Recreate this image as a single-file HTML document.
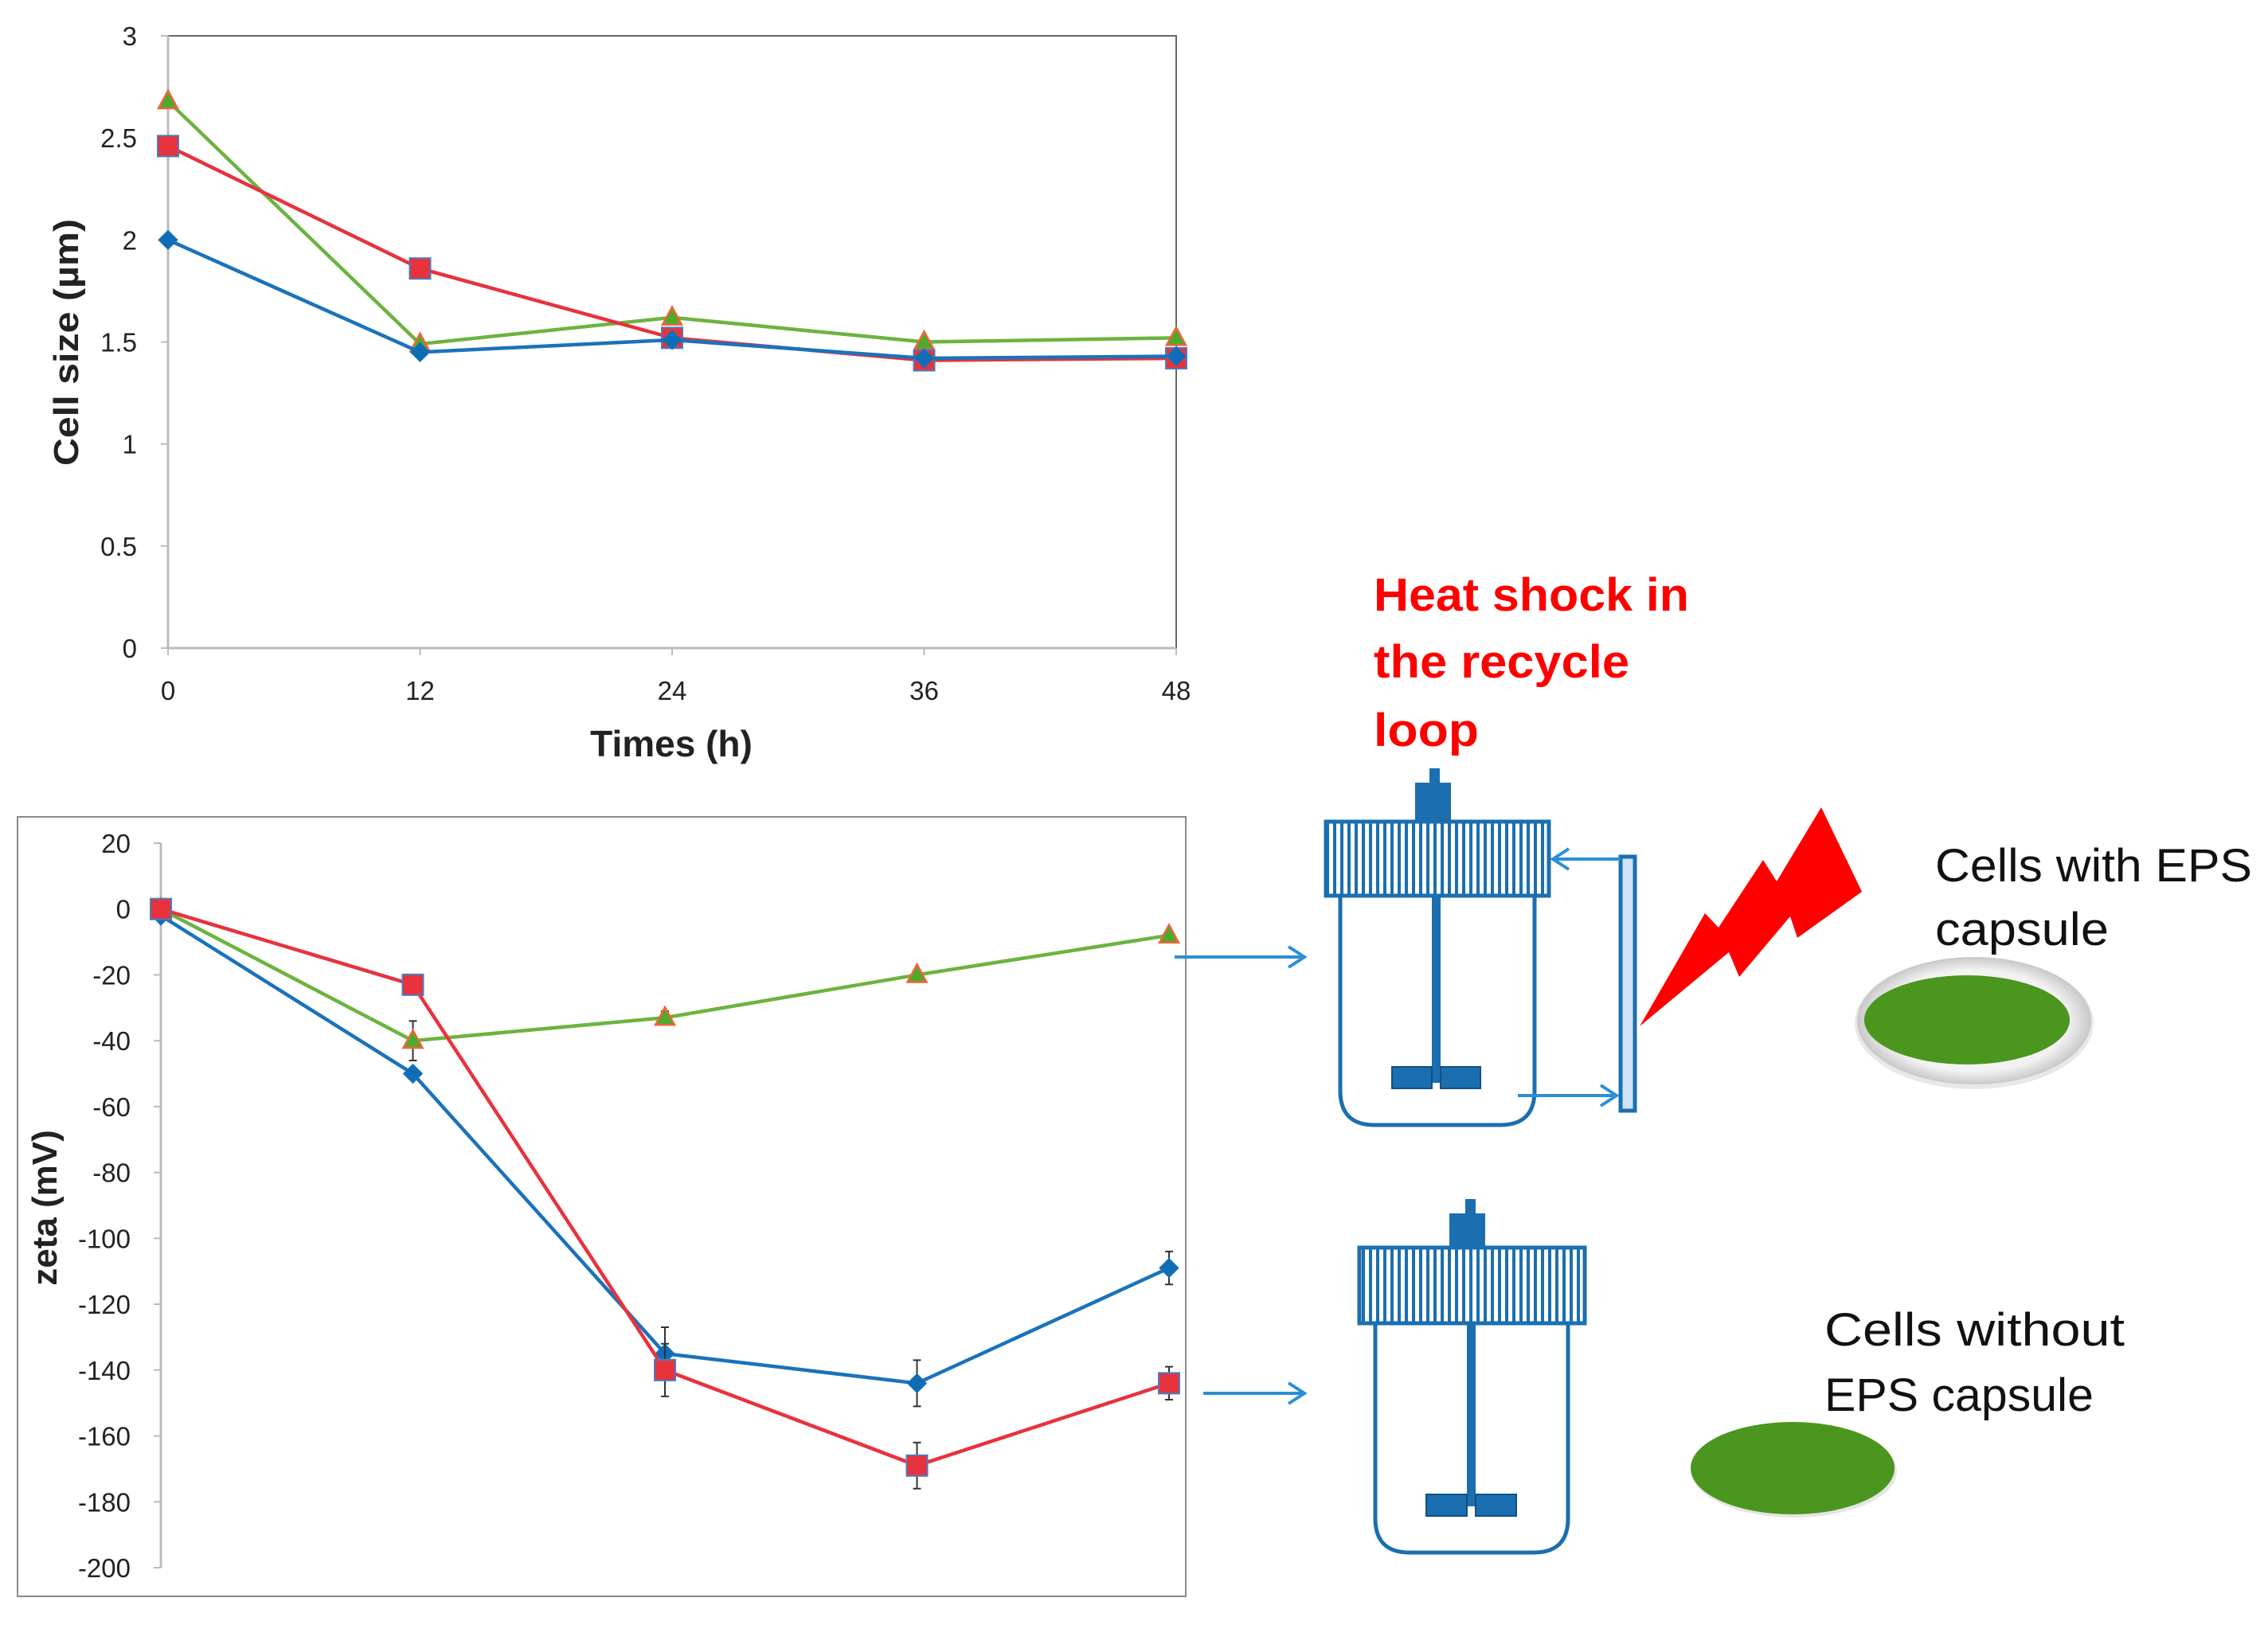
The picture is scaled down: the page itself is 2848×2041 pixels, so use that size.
<!DOCTYPE html>
<html><head><meta charset="utf-8">
<style>
html,body{margin:0;padding:0;background:#fff;}
svg{display:block;}
text{font-family:"Liberation Sans",sans-serif;}
</style></head>
<body>
<svg id="fig" width="2848" height="2041" viewBox="0 0 2848 2041" xmlns="http://www.w3.org/2000/svg">
<defs>
<pattern id="hatch" width="9" height="10" patternUnits="userSpaceOnUse">
<rect width="9" height="10" fill="#ffffff"/>
<rect x="0" width="4" height="10" fill="#1b6fb0"/>
</pattern>
<radialGradient id="capsuleGrad" cx="50%" cy="50%" r="50%">
<stop offset="80%" stop-color="#f2f2f2"/>
<stop offset="100%" stop-color="#c8c8c8"/>
</radialGradient>
</defs>
<g id="top-chart"></g>
<g id="bot-chart"></g>

<g fill="#ff0000" font-weight="bold" font-size="58">
<text x="1725" y="767" textLength="396" lengthAdjust="spacingAndGlyphs">Heat shock in</text>
<text x="1725" y="851" textLength="321" lengthAdjust="spacingAndGlyphs">the recycle</text>
<text x="1725" y="937" textLength="132" lengthAdjust="spacingAndGlyphs">loop</text>
</g>

<g stroke="#1b6fb0" fill="none">
<rect x="1795" y="965" width="13" height="20" fill="#1b6fb0" stroke="none"/>
<rect x="1777" y="983" width="45" height="49" fill="#1b6fb0" stroke="none"/>
<rect x="1665" y="1032" width="280" height="93" fill="url(#hatch)" stroke-width="5"/>
<path d="M1683 1125 V1370 Q1683 1413 1726 1413 H1884 Q1927 1413 1927 1370 V1125" stroke-width="5"/>
<rect x="1798" y="1125" width="11" height="235" fill="#1b6fb0" stroke="none"/>
<rect x="1748" y="1340" width="50" height="27" fill="#1b6fb0" stroke="#0f4f85" stroke-width="2"/>
<rect x="1809" y="1340" width="50" height="27" fill="#1b6fb0" stroke="#0f4f85" stroke-width="2"/>
<rect x="2035" y="1076" width="18" height="319" fill="#cfe3f4" stroke-width="5"/>
</g>
<g stroke="#2a8fd6" stroke-width="4" fill="none">
<path d="M2035 1079 H1950 M1970 1066 L1950 1079 L1970 1092"/>
<path d="M1906 1376 H2030 M2010 1363 L2030 1376 L2010 1389"/>
</g>
<polygon fill="#ff0000" points="2059,1289 2141,1147 2158,1165 2214,1080 2231,1107 2287,1014 2338,1120 2257,1178 2248,1151 2184,1227 2171,1196"/>

<g stroke="#2a8fd6" stroke-width="4" fill="none">
<path d="M1475 1202 H1638 M1618 1189 L1638 1202 L1618 1215"/>
</g>
<g stroke="#2a8fd6" stroke-width="4" fill="none">
<path d="M1511 1750 H1638 M1618 1737 L1638 1750 L1618 1763"/>
</g>

<g stroke="#1b6fb0" fill="none">
<rect x="1840" y="1506" width="13" height="20" fill="#1b6fb0" stroke="none"/>
<rect x="1820" y="1524" width="45" height="43" fill="#1b6fb0" stroke="none"/>
<rect x="1707" y="1567" width="283" height="95" fill="url(#hatch)" stroke-width="5"/>
<path d="M1727 1662 V1907 Q1727 1950 1770 1950 H1926 Q1969 1950 1969 1907 V1662" stroke-width="5"/>
<rect x="1842" y="1662" width="11" height="230" fill="#1b6fb0" stroke="none"/>
<rect x="1791" y="1877" width="51" height="27" fill="#1b6fb0" stroke="#0f4f85" stroke-width="2"/>
<rect x="1853" y="1877" width="51" height="27" fill="#1b6fb0" stroke="#0f4f85" stroke-width="2"/>
</g>

<g>
<ellipse cx="2479" cy="1285" rx="150" ry="83" fill="#d8d8d8" opacity="0.6"/>
<ellipse cx="2479" cy="1282" rx="147" ry="80" fill="url(#capsuleGrad)"/>
<ellipse cx="2470" cy="1281" rx="129" ry="56" fill="#4a961e"/>
</g>
<g font-size="58" fill="#111">
<text x="2430" y="1107" textLength="398" lengthAdjust="spacingAndGlyphs">Cells with EPS</text>
<text x="2430" y="1187" textLength="218" lengthAdjust="spacingAndGlyphs">capsule</text>
</g>
<g>
<ellipse cx="2253" cy="1848" rx="129" ry="58" fill="#cccccc" opacity="0.5"/>
<ellipse cx="2251" cy="1844" rx="128" ry="58" fill="#4a961e"/>
</g>
<g font-size="58" fill="#111">
<text x="2291" y="1690" textLength="377" lengthAdjust="spacingAndGlyphs">Cells without</text>
<text x="2291" y="1772" textLength="338" lengthAdjust="spacingAndGlyphs">EPS capsule</text>
</g>
</svg>
<script>
const times = [0, 12, 24, 36, 48];
const sizeBlue = [2.0, 1.45, 1.51, 1.42, 1.43];
const sizeRed = [2.46, 1.86, 1.52, 1.41, 1.42];
const sizeGreen = [2.68, 1.49, 1.62, 1.50, 1.52];
const sizeTicks = [0, 0.5, 1, 1.5, 2, 2.5, 3];
const zetaBlue = [-2, -50, -135, -144, -109];
const zetaRed = [0, -23, -140, -169, -144];
const zetaGreen = [0, -40, -33, -20, -8];
const zetaBlueErr = [0, 0, 8, 7, 5];
const zetaRedErr = [0, 0, 8, 7, 5];
const zetaGreenErr = [0, 6, 2, 0, 0];
const zetaTicks = [20, 0, -20, -40, -60, -80, -100, -120, -140, -160, -180, -200];

const NS = 'http://www.w3.org/2000/svg';
function mk(parent, tag, attrs) {
  const e = document.createElementNS(NS, tag);
  for (const k in attrs) e.setAttribute(k, attrs[k]);
  parent.appendChild(e);
  return e;
}
const C = {blue: '#1a72bb', red: '#e8323c', green: '#6cb33f'};

function marker(g, kind, x, y, s) {
  let m;
  if (kind === 'blue') {
    m = mk(g, 'polygon', {points: `${x},${y-s} ${x+s},${y} ${x},${y+s} ${x-s},${y}`, fill: '#0f6db5', stroke: '#1a72bb', 'stroke-width': 1});
  } else if (kind === 'red') {
    m = mk(g, 'rect', {x: x - s, y: y - s, width: 2 * s, height: 2 * s, fill: '#e8323c', stroke: '#4a7cc0', 'stroke-width': 2});
  } else {
    m = mk(g, 'polygon', {points: `${x},${y-s*1.1} ${x+s},${y+s*0.75} ${x-s},${y+s*0.75}`, fill: '#4daa2a', stroke: '#f0643c', 'stroke-width': 2.5});
  }
  return m;
}

// ---- Top chart ----
(function () {
  const g = document.getElementById('top-chart');
  const X0 = 211, X1 = 1477, Y0 = 814, Y1 = 45;
  const xs = t => X0 + (t - times[0]) / (times[times.length - 1] - times[0]) * (X1 - X0);
  const ys = v => Y0 - (v - 0) / 3 * (Y0 - Y1);
  let e = mk(g, 'path', {d: `M${X0} ${Y1} H${X1} V${Y0}`, stroke: '#666', 'stroke-width': 2, fill: 'none'});
  
  
  e = mk(g, 'line', {x1: X0, y1: Y1, x2: X0, y2: Y0, stroke: '#bbb', 'stroke-width': 3});
  
  
  e = mk(g, 'line', {x1: X0, y1: Y0, x2: X1, y2: Y0, stroke: '#bbb', 'stroke-width': 3});
  
  
  sizeTicks.forEach(v => {
    mk(g, 'line', {x1: X0 - 9, y1: ys(v), x2: X0, y2: ys(v), stroke: '#bbb', 'stroke-width': 2});
    const t = mk(g, 'text', {x: 172, y: ys(v) + 12, 'text-anchor': 'end', 'font-size': 33, fill: '#222'});
    t.textContent = String(v);
    
    
  });
  times.forEach(tv => {
    mk(g, 'line', {x1: xs(tv), y1: Y0, x2: xs(tv), y2: Y0 + 9, stroke: '#bbb', 'stroke-width': 2});
    const t = mk(g, 'text', {x: xs(tv), y: 879, 'text-anchor': 'middle', 'font-size': 33, fill: '#222'});
    t.textContent = String(tv);
    
    
  });
  let t = mk(g, 'text', {x: 843, y: 950, 'text-anchor': 'middle', 'font-size': 46, 'font-weight': 'bold', fill: '#222'});
  t.textContent = 'Times (h)';
  
  
  t = mk(g, 'text', {x: 0, y: 0, 'text-anchor': 'middle', 'font-size': 44, 'font-weight': 'bold', fill: '#222', transform: 'translate(98,430) rotate(-90)', textLength: 310, lengthAdjust: 'spacingAndGlyphs'});
  t.textContent = 'Cell size (µm)';
  
  
  [['green', sizeGreen], ['red', sizeRed], ['blue', sizeBlue]].forEach(([k, arr]) => {
    const sg = mk(g, 'g', {});
    
    
    const p = mk(sg, 'polyline', {points: arr.map((v, i) => xs(times[i]) + ',' + ys(v)).join(' '), fill: 'none', stroke: C[k], 'stroke-width': 4.5});
    
    
    arr.forEach((v, i) => {
      const m = marker(sg, k, xs(times[i]), ys(v), k === 'red' ? 13 : 12);
      
      
    });
  });
})();

// ---- Bottom chart ----
(function () {
  const g = document.getElementById('bot-chart');
  const X0 = 202, X1 = 1468, Y0 = 1969, Y1 = 1059;
  const xs = t => X0 + (t - times[0]) / (times[times.length - 1] - times[0]) * (X1 - X0);
  const ys = v => Y0 - (v + 200) / 220 * (Y0 - Y1);
  let e = mk(g, 'rect', {x: 22, y: 1026, width: 1467, height: 979, fill: 'none', stroke: '#888', 'stroke-width': 2});
  
  
  e = mk(g, 'line', {x1: X0, y1: Y1, x2: X0, y2: Y0, stroke: '#bbb', 'stroke-width': 3});
  
  
  zetaTicks.forEach(v => {
    mk(g, 'line', {x1: X0 - 9, y1: ys(v), x2: X0, y2: ys(v), stroke: '#bbb', 'stroke-width': 2});
    const t = mk(g, 'text', {x: 164, y: ys(v) + 12, 'text-anchor': 'end', 'font-size': 33, fill: '#222'});
    t.textContent = String(v);
    
    
  });
  const t = mk(g, 'text', {x: 0, y: 0, 'text-anchor': 'middle', 'font-size': 44, 'font-weight': 'bold', fill: '#222', transform: 'translate(71,1517) rotate(-90)'});
  t.textContent = 'zeta (mV)';
  
  
  [['green', zetaGreen, zetaGreenErr], ['blue', zetaBlue, zetaBlueErr], ['red', zetaRed, zetaRedErr]].forEach(([k, arr, err]) => {
    const sg = mk(g, 'g', {});
    
    
    arr.forEach((v, i) => {
      if (err[i] > 0) {
        const x = xs(times[i]);
        const eb = mk(sg, 'path', {d: `M${x} ${ys(v + err[i])} V${ys(v - err[i])} M${x-5} ${ys(v + err[i])} H${x+5} M${x-5} ${ys(v - err[i])} H${x+5}`, stroke: '#333', 'stroke-width': 2, fill: 'none'});
        
        
      }
    });
    const p = mk(sg, 'polyline', {points: arr.map((v, i) => xs(times[i]) + ',' + ys(v)).join(' '), fill: 'none', stroke: C[k], 'stroke-width': 4.5});
    
    
    arr.forEach((v, i) => {
      const m = marker(sg, k, xs(times[i]), ys(v), k === 'red' ? 13 : 12);
      
      
    });
  });
})();
</script>
</body></html>
